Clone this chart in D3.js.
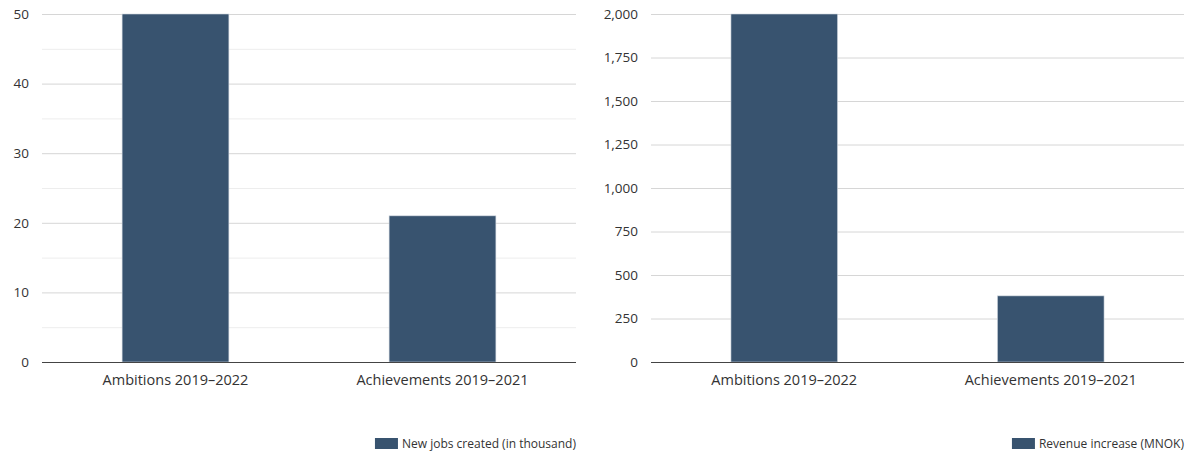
<!DOCTYPE html>
<html><head><meta charset="utf-8">
<script src="https://cdn.jsdelivr.net/npm/d3@7"></script>
<style>body{margin:0;background:#fff}svg{display:block}text{font-family:"Open Sans",sans-serif}</style>
</head><body><svg id="c" width="1190" height="454"></svg>
<script>
const categories = ["Ambitions 2019–2022", "Achievements 2019–2021"];
const jobsValues = [50, 21];
const revenueValues = [2000, 380];
const jobsTicks = [0, 10, 20, 30, 40, 50];
const jobsMinorTicks = [5, 15, 25, 35, 45];
const revenueTicks = [0, 250, 500, 750, 1000, 1250, 1500, 1750, 2000];
const legendLabels = ["New jobs created (in thousand)", "Revenue increase (MNOK)"];

const svg = d3.select("#c");
const barColor = "#38536f";
const fmt = d3.format(",");

function panel(x0, x1, values, max, ticks, minor, legend) {
  const y = d3.scaleLinear().domain([0, max]).range([362, 14]);
  const x = d3.scaleBand().domain(categories).range([x0, x1]).paddingInner(0.6).paddingOuter(0.3);
  const g = svg.append("g");
  g.selectAll(".mn").data(minor).join("line")
    .attr("x1", x0).attr("x2", x1).attr("y1", d => y(d) + 0.5).attr("y2", d => y(d) + 0.5)
    .attr("stroke", "#ededed").attr("stroke-width", 1);
  g.selectAll(".mj").data(ticks.filter(t => t > 0)).join("line")
    .attr("x1", x0).attr("x2", x1).attr("y1", d => y(d) + 0.5).attr("y2", d => y(d) + 0.5)
    .attr("stroke", "#d6d6d6").attr("stroke-width", 1);
  g.selectAll(".tl").data(ticks).join("text")
    .attr("x", x0 - 13).attr("y", d => y(d)).attr("dy", "0.35em")
    .attr("text-anchor", "end").attr("font-size", 13.5).attr("fill", "#333")
    .text(d => fmt(d));
  g.selectAll("rect.bar").data(values).join("rect")
    .attr("x", (d, i) => x(categories[i])).attr("width", x.bandwidth())
    .attr("y", d => y(d)).attr("height", d => y(0) - y(d))
    .attr("fill", barColor).attr("stroke", "#cfd6de").attr("stroke-width", 0.6);
  g.append("line").attr("x1", x0).attr("x2", x1).attr("y1", y(0) + 0.5).attr("y2", y(0) + 0.5)
    .attr("stroke", "#444").attr("stroke-width", 1);
  g.selectAll(".cl").data(categories).join("text")
    .attr("x", d => x(d) + x.bandwidth() / 2).attr("y", 385)
    .attr("text-anchor", "middle").attr("font-size", 14.5).attr("fill", "#333")
    .text(d => d);
  const lt = g.append("text").attr("x", x1).attr("y", 448).attr("text-anchor", "end")
    .attr("font-size", 12).attr("fill", "#333").text(legend);
  const w = lt.node().getComputedTextLength();
  g.append("rect").attr("x", x1 - w - 27).attr("y", 438).attr("width", 23).attr("height", 11).attr("fill", barColor);
}

panel(42, 576, jobsValues, 50, jobsTicks, jobsMinorTicks, legendLabels[0]);
panel(651, 1184, revenueValues, 2000, revenueTicks, [], legendLabels[1]);
</script></body></html>
